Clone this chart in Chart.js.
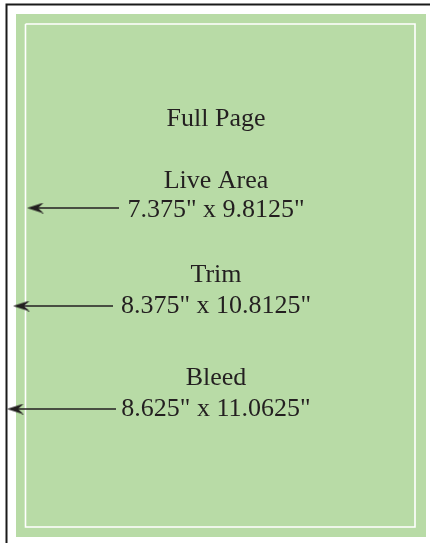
<!DOCTYPE html>
<html>
<head>
<meta charset="utf-8">
<script src="https://cdn.jsdelivr.net/npm/chart.js@4/dist/chart.umd.min.js"></script>
<style>
  html, body { margin: 0; padding: 0; background: #ffffff; }
  #wrap { width: 430px; height: 543px; }
</style>
</head>
<body>
<div id="wrap"><canvas id="c" width="430" height="543"></canvas></div>
<script>
// ---- data ----
const areaTitles = ["Full Page", "Live Area", "Trim", "Bleed"];
const areaSizes = ["", "7.375\" x 9.8125\"", "8.375\" x 10.8125\"", "8.625\" x 11.0625\""];

// ---- layout (page coordinates, y downward) ----
const W = 430, H = 543;
const frame = { left: 6.5, top: 4.5 };
const trimBox = { l: 16, t: 14, r: 426, b: 537 };
const liveBox = { l: 25.5, t: 24, r: 415, b: 527 };
const textX = 216;
const titleBaselines = [126, 188, 282, 385];
const sizeBaselines = [null, 217, 313, 416];
const arrowY = [null, 208, 306, 409];
const arrowTipX = [null, 27, 13, 7];
const arrowEndX = [null, 119, 113, 116];

const FONT = '26px "Liberation Serif", "DejaVu Serif", serif';
const INK = '#231f20';
const GREEN = '#b8dba6';

// arrowhead image used as point style
const head = document.createElement('canvas');
head.width = 17; head.height = 11;
(function () {
  const g = head.getContext('2d');
  g.fillStyle = INK;
  g.beginPath();
  g.moveTo(0, 5.5);
  g.lineTo(17, 0);
  g.lineTo(11, 5.5);
  g.lineTo(17, 11);
  g.closePath();
  g.fill();
})();

const datasets = [];
// green trim page
datasets.push({
  data: [
    { x: trimBox.l, y: trimBox.t }, { x: trimBox.r, y: trimBox.t },
    { x: trimBox.r, y: trimBox.b }, { x: trimBox.l, y: trimBox.b },
    { x: trimBox.l, y: trimBox.t }
  ],
  showLine: true, fill: 'shape', backgroundColor: GREEN,
  borderWidth: 0, borderColor: GREEN, pointRadius: 0, order: 5
});
// white live-area line
datasets.push({
  data: [
    { x: liveBox.l, y: liveBox.t }, { x: liveBox.r, y: liveBox.t },
    { x: liveBox.r, y: liveBox.b }, { x: liveBox.l, y: liveBox.b },
    { x: liveBox.l, y: liveBox.t }
  ],
  showLine: true, fill: false, borderColor: '#ffffff',
  borderWidth: 1.6, pointRadius: 0, order: 4
});
// black bleed frame
datasets.push({
  data: [{ x: frame.left, y: H + 5 }, { x: frame.left, y: frame.top }, { x: W + 5, y: frame.top }],
  showLine: true, fill: false, borderColor: '#1a1a1a',
  borderWidth: 2, pointRadius: 0, order: 4, clip: false
});
// arrows
for (let i = 1; i < areaTitles.length; i++) {
  datasets.push({
    data: [
      { x: arrowTipX[i] + head.width / 2, y: arrowY[i] },
      { x: arrowEndX[i], y: arrowY[i] }
    ],
    showLine: true, fill: false, borderColor: INK, borderWidth: 1.3,
    pointStyle: head,
    pointRadius: (ctx) => ctx.dataIndex === 0 ? 8 : 0,
    pointHoverRadius: 0,
    order: 1
  });
}

const labelPlugin = {
  id: 'labels',
  afterDatasetsDraw(chart) {
    const { ctx, scales } = chart;
    ctx.save();
    ctx.font = FONT;
    ctx.fillStyle = INK;
    ctx.textAlign = 'center';
    ctx.textBaseline = 'alphabetic';
    const px = scales.x.getPixelForValue(textX);
    for (let i = 0; i < areaTitles.length; i++) {
      ctx.fillText(areaTitles[i], px, scales.y.getPixelForValue(titleBaselines[i]));
      if (areaSizes[i]) {
        ctx.fillText(areaSizes[i], px, scales.y.getPixelForValue(sizeBaselines[i]));
      }
    }
    ctx.restore();
  }
};

new Chart(document.getElementById('c'), {
  type: 'scatter',
  data: { datasets },
  options: {
    responsive: false,
    animation: false,
    events: [],
    layout: { padding: 0, autoPadding: false },
    plugins: { legend: { display: false }, tooltip: { enabled: false } },
    scales: {
      x: { type: 'linear', min: 0, max: W, display: false },
      y: { type: 'linear', min: 0, max: H, reverse: true, display: false }
    }
  },
  plugins: [labelPlugin]
});
</script>
</body>
</html>
